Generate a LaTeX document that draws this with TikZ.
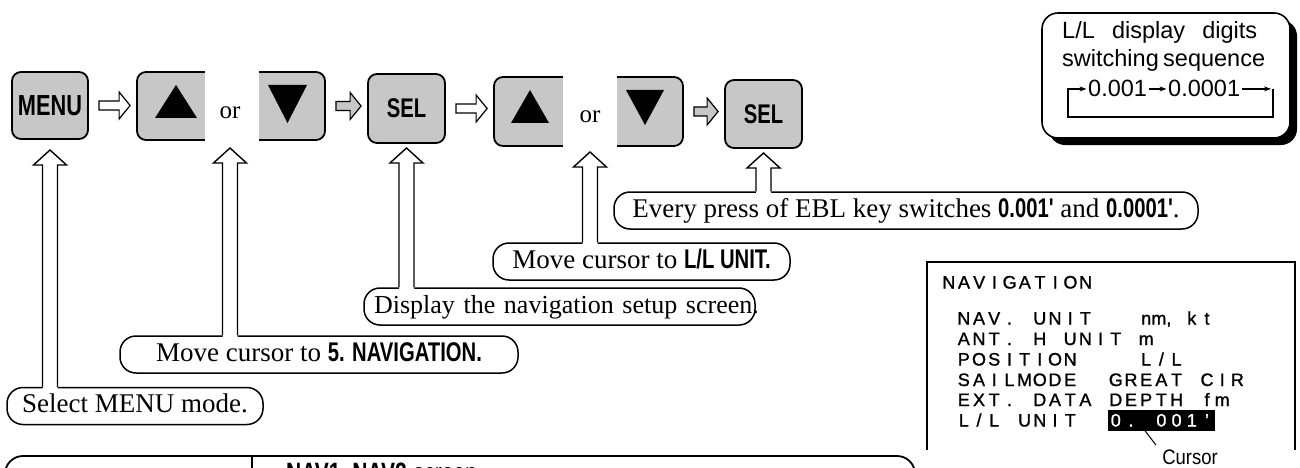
\documentclass[tikz,border=0pt]{standalone}
\usepackage{fontspec}
\setmainfont{Liberation Serif}
\setsansfont{Liberation Sans}
\newfontfamily\keyfont[FakeStretch=0.75]{Liberation Sans}
\newfontfamily\lcdfont[FakeBold=1.2]{Liberation Sans}
\newfontfamily\capfont[FakeStretch=0.88]{Liberation Sans}
\usetikzlibrary{calc,arrows.meta}
\definecolor{keygray}{gray}{0.78}

% fixed-pitch character cells for the LCD screen
\newcommand\cells[1]{\cellsA#1\relax}
\def\cellsA#1{\ifx\relax#1\else\makebox[15.2pt]{#1}\expandafter\cellsA\fi}

% block arrow between two keys: #1 from, #2 to, #3 fill
\newcommand\blockarrow[3]{%
  \filldraw[fill=#3, line width=1.2pt, line join=miter]
    let \p1=($(#1.east)+(10,0)$), \p2=($(#2.west)+(-6,0)$) in
    (\x1,\y1+4.5pt) -- (\x2-11pt,\y1+4.5pt) -- (\x2-11pt,\y1+13.5pt) -- (\x2,\y1)
    -- (\x2-11pt,\y1-13.5pt) -- (\x2-11pt,\y1-4.5pt) -- (\x1,\y1-4.5pt) -- cycle;}

% hollow up arrow rising from a note to a key: #1 key, #2 tip y, #3 note
\newcommand\callup[3]{%
  \fill[white] let \p1=(#1.center), \p2=(#1.center |- #3.north) in
    (\x1-7.5pt,\y2-2.5pt) -- (\x1-7.5pt,-#2pt-15pt) -- (\x1-16.5pt,-#2pt-15pt)
    -- (\x1,-#2pt) -- (\x1+16.5pt,-#2pt-15pt) -- (\x1+7.5pt,-#2pt-15pt)
    -- (\x1+7.5pt,\y2-2.5pt) -- cycle;
  \draw[line width=1.4pt, line join=miter] let \p1=(#1.center), \p2=(#1.center |- #3.north) in
    (\x1-7.5pt,\y2) -- (\x1-7.5pt,-#2pt-15pt) -- (\x1-16.5pt,-#2pt-15pt)
    -- (\x1,-#2pt) -- (\x1+16.5pt,-#2pt-15pt) -- (\x1+7.5pt,-#2pt-15pt)
    -- (\x1+7.5pt,\y2);}

\begin{document}
\begin{tikzpicture}[x=1pt,y=-1pt,
  key/.style={draw, line width=1.8pt, rounded corners=9pt, fill=keygray, inner sep=0pt},
  pill/.style={draw, line width=1.5pt, rounded corners=16pt, fill=white,
    minimum height=37pt, inner xsep=0pt, inner ysep=0pt,
    text height=19pt, text depth=6pt, font=\fontsize{27}{32}\selectfont},
  ortext/.style={font=\fontsize{25}{28}\selectfont, inner sep=0pt},
  lcd/.style={inner sep=0pt, anchor=base west, font=\lcdfont\fontsize{18}{20}\selectfont},
  lltext/.style={inner sep=0pt, anchor=base west, font=\sffamily\fontsize{23.5}{26}\selectfont},
  loopline/.style={line width=1.2pt},
  tip/.style={-{Stealth[length=7pt,width=5pt]}}
]
\useasboundingbox (0,0) rectangle (1300,468);
\clip (0,0) rectangle (1300,468);
\fill[white] (0,0) rectangle (1300,468);

% ---- key sequence ----
\node[key, minimum width=76pt, minimum height=67pt] (menu) at (50,105.5)
  {\keyfont\bfseries\fontsize{29}{30}\selectfont MENU};

\node[key, minimum width=188pt, minimum height=68pt] (ud1) at (231,106) {};
\fill[white] (205,68) rectangle (259,144);
\node[ortext] (or1) at (230,112.5) {or};
\fill (176,85) -- (197,118) -- (155,118) -- cycle;
\fill (268,85) -- (307,85) -- (287.5,123) -- cycle;

\node[key, minimum width=77pt, minimum height=69pt] (sel1) at (406.5,108.5)
  {\keyfont\bfseries\fontsize{27}{30}\selectfont SEL};

\node[key, minimum width=189pt, minimum height=69pt] (ud2) at (588.5,111.5) {};
\fill[white] (563,73) rectangle (617,150);
\node[ortext] (or2) at (590,116.5) {or};
\fill (530,90) -- (549,123) -- (511,123) -- cycle;
\fill (626,90) -- (664,90) -- (645,125) -- cycle;

\node[key, minimum width=77pt, minimum height=68pt] (sel2) at (763.5,114)
  {\keyfont\bfseries\fontsize{27}{30}\selectfont SEL};

\blockarrow{menu}{ud1}{white}
\blockarrow{ud1}{sel1}{keygray}
\blockarrow{sel1}{ud2}{white}
\blockarrow{ud2}{sel2}{keygray}

% ---- notes ----
\node[pill, minimum width=584pt] (everyp) at (906,210.5)
  {Every press of EBL key switches {\keyfont\bfseries 0.001'} and {\keyfont\bfseries 0.0001'}.};
\node[pill, minimum width=297pt] (llp) at (641.5,261.5)
  {Move cursor to {\keyfont\bfseries L/L UNIT.}};
\node[pill, text width=371pt, inner xsep=10pt, align=left, font=\fontsize{26}{30}\selectfont] (dispp) at (559.5,306.5)
  {\mbox{Display the navigation setup screen.}};
\node[pill, minimum width=398pt] (navp) at (319,354.5)
  {Move cursor to {\keyfont\bfseries 5. NAVIGATION.}};
\node[pill, minimum width=256pt] (selp) at (135,406)
  {Select MENU mode.};

\callup{menu}{150}{selp}
\callup{or1}{148}{navp}
\callup{sel1}{148}{dispp}
\callup{or2}{152}{llp}
\callup{sel2}{153}{everyp}

% ---- L/L digit box ----
\node[fill=black, rounded corners=16pt, minimum width=248pt, minimum height=125pt] (llshadow) at (1173,82.5) {};
\node[draw, fill=white, line width=1.6pt, rounded corners=16pt, minimum width=248pt, minimum height=125pt] (llbox) at (1166,75.5) {};
\node[lltext] (lla) at (1062,38.5) {\makebox[195pt][s]{L/L display digits}};
\node[lltext] (llb) at (1062,67) {\makebox[195pt][s]{switching sequence}};
\node[lltext, inner sep=1.5pt] (d1) at (1086.5,97) {0.001};
\node[lltext, inner sep=1.5pt] (d2) at (1166.5,97) {0.0001};
\coordinate (lpr) at (1273,117);
\coordinate (lpl) at (1068,117);
\draw[loopline, tip] (d1.east) -- (d2.west);
\draw[loopline, tip] (d2.east) -- ($(d2.east -| lpr)+(-2,0)$);
\draw[loopline, tip] (d2.east -| lpr) -- (lpr) -- (lpl) -- (lpl |- d1.west) -- (d1.west);

% ---- navigation setup screen ----
\draw[line width=1.4pt] (927,450) -- (927,262) -- (1295,262) -- (1295,450);
\node[lcd] (scrhead) at (941,288.5) {\cells{NAVIGATION}};
\node[lcd] (r1) at (956,324.5) {\cells{NAV.~UNIT~~~n{m,}~kt}};
\node[lcd] (r2) at (956,345) {\cells{ANT.~H~UNIT~m}};
\node[lcd] (r3) at (956,365.5) {\cells{POSITION~~~~L/L}};
\node[lcd] (r4) at (956,386) {\cells{SAILMODE~~GREAT~CIR}};
\node[lcd] (r5) at (956,406) {\cells{EXT.~DATA~DEPTH~fm}};
\node[lcd] (r6) at (956,426.5) {\cells{L/L~UNIT}};
\node[lcd, fill=black, text=white, inner ysep=4pt, text height=13pt, text depth=0pt] (curval) at (1108,426.5) {\cells{0.~001'}};
\node[inner sep=0pt, anchor=base, font=\capfont\fontsize{21}{24}\selectfont] (curlabel) at (1190,464) {Cursor};
\draw[line width=1pt] ($(curval.south west)+(37,0)$) -- ($(curlabel.north)+(-34,-4)$);

% ---- NAV1/NAV2 table frame ----
\draw[line width=1.8pt, rounded corners=18pt] (5,530) -- (5,456) -- (915,456) -- (915,530);
\draw[line width=1.2pt] (252,456) -- (252,530);
\node[inner sep=0pt, anchor=base west, font=\fontsize{28}{30}\selectfont] (navscr) at (286,482)
  {{\keyfont\bfseries NAV1, NAV2} {\keyfont screen}};
\end{tikzpicture}
\end{document}
